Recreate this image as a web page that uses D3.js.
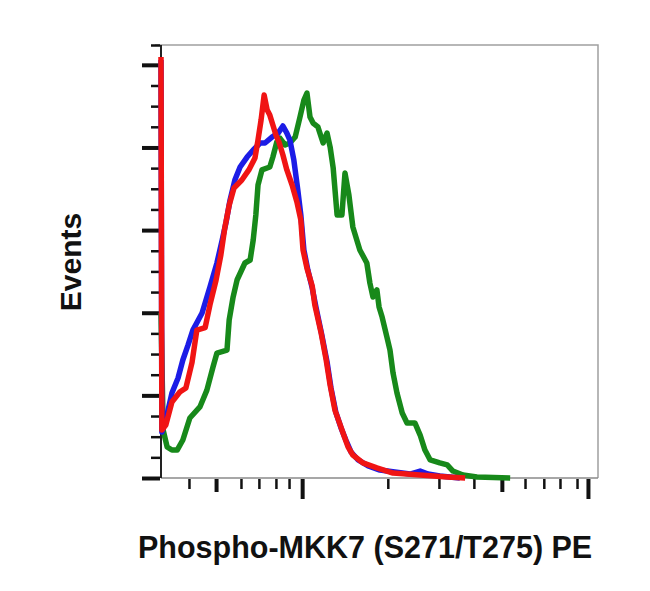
<!DOCTYPE html>
<html>
<head>
<meta charset="utf-8">
<script src="https://cdn.jsdelivr.net/npm/d3@7"></script>
<style>
  html, body { margin: 0; padding: 0; background: #fff; }
  svg { display: block; }
</style>
</head>
<body>
<div id="chart"></div>
<script>
// ---------- data (x in display channel units 0-1000, y in event counts) ----------
const xTitle = "Phospho-MKK7 (S271/T275) PE";
const yTitle = "Events";

const seriesNames = ["green", "blue", "red"];

const greenCurve = [
  [0,99.8],[5,29],[14,18.8],[25,16.9],[37,16.9],[50,23],[66,36.3],[89,43],[105,53.2],
  [119,67.2],[128,75.6],[151,77.4],[156,95.6],[165,109.5],[174,119.8],[192,130.1],
  [204,131.9],[211,144],[217,159.1],[222,177.3],[231,186.4],[249,188.2],[256,194.2],
  [265,203.3],[272,205.7],[284,201.5],[295,202.7],[307,206.3],[318,218.4],[327,228.7],
  [334,232.9],[341,218.4],[348,214.8],[359,212.4],[371,202.7],[380,208.7],[387,200.3],
  [394,187.6],[403,159.1],[414,159.1],[421,184.5],[430,171.2],[439,151.9],[455,138],
  [471,130.1],[478,118],[485,109.5],[494,113.8],[499,103.5],[506,97.4],[517,85.3],
  [524,77.4],[531,63.5],[540,51.4],[552,39.3],[563,33.3],[581,33.3],[593,26],[604,16.9],
  [616,10.9],[638,9.1],[655,7.9],[668,4.2],[691,1.8],[723,0.6],[799,0]
];

const blueCurve = [
  [0,252.9],[2,27.8],[11,35.1],[25,51.4],[39,60.5],[50,71.4],[62,80.5],[73,89.5],
  [94,99.8],[112,115.6],[128,130.1],[140,144],[149,154.9],[158,168.2],[169,180.3],
  [181,188.2],[197,194.2],[211,198.5],[227,202.7],[238,202.7],[254,206.3],[268,208.7],
  [279,213],[288,208.7],[295,204.5],[304,192.4],[313,174.3],[320,159.1],[327,138],
  [336,125.9],[346,115],[355,102.9],[368,86.5],[380,70.2],[389,54.5],[400,39.9],
  [412,30.3],[423,23],[435,15.7],[451,10.9],[474,7.3],[501,4.8],[535,3.6],[570,2.4],
  [593,4.2],[611,2.4],[638,1.2],[684,0]
];

const redCurve = [
  [0,254.7],[2,29],[11,32],[25,46],[43,52],[57,54.5],[71,70],[82,89.5],[101,91],
  [112,104.7],[126,119.8],[137,135],[146,151.3],[156,165],[167,175.5],[185,180.3],
  [201,186.4],[215,193.6],[222,204.5],[229,216.6],[236,231.7],[243,222.7],[249,219.6],
  [256,213.6],[263,207.5],[270,203.3],[279,195.4],[288,186.4],[300,177.3],[311,167],
  [320,156.1],[325,138],[334,127],[346,116.2],[352,104.7],[366,88.3],[378,71.4],
  [387,56.3],[398,41.1],[410,32.1],[419,25.4],[428,18.8],[439,13.9],[462,9.1],
  [494,6.1],[531,3],[593,1.8],[655,0.6],[696,0]
];

const xMajorTicks = [323, 977];
const xMediumTicks = [126, 780];
const xMinorTicks = [64, 183, 224, 263, 293, 519, 636, 716, 833, 876, 913, 952];

const yMajorTicks = [0, 50, 100, 150, 200, 250];
const yMinorTicks = [12.5, 25, 37.5, 62.5, 75, 87.5, 112.5, 125, 137.5, 162.5, 175, 187.5, 212.5, 225, 237.5, 262];

const xDomain = [0, 1000];
const yDomain = [0, 262];

// ---------- layout ----------
const W = 650, H = 591;
const margin = { left: 161, right: 52, top: 45, bottom: 113 };
const colors = { green: "#17891a", blue: "#1c1ce6", red: "#f01414" };
const curves = { green: greenCurve, blue: blueCurve, red: redCurve };

const svg = d3.select("#chart").append("svg").attr("width", W).attr("height", H);

const x = d3.scaleLinear().domain(xDomain).range([margin.left, W - margin.right]);
const y = d3.scaleLinear().domain(yDomain).range([H - margin.bottom, margin.top]);

// frame (top and right, light gray)
svg.append("path")
  .attr("d", `M${margin.left - 6},${y(yDomain[1])}H${x(xDomain[1])}V${y(0)}`)
  .attr("fill", "none").attr("stroke", "#a0a0a0").attr("stroke-width", 1.5);

// bottom axis line
svg.append("line")
  .attr("x1", x(xDomain[0])).attr("x2", x(xDomain[1]))
  .attr("y1", y(0)).attr("y2", y(0))
  .attr("stroke", "#8a8a8a").attr("stroke-width", 1.5);

// y axis line
svg.append("line")
  .attr("x1", x(0)).attr("x2", x(0))
  .attr("y1", y(0)).attr("y2", y(yDomain[1]))
  .attr("stroke", "#222").attr("stroke-width", 2);

function drawAxis(gen, transform, width) {
  const g = svg.append("g").attr("transform", transform).call(gen);
  g.select(".domain").remove();
  g.selectAll(".tick line").attr("stroke", "#111").attr("stroke-width", width);
  g.selectAll(".tick text").remove();
  return g;
}

// y ticks
drawAxis(d3.axisLeft(y).tickValues(yMajorTicks).tickSize(18).tickFormat(""),
  `translate(${x(0) - 1},0)`, 4);
drawAxis(d3.axisLeft(y).tickValues(yMinorTicks).tickSize(9).tickFormat(""),
  `translate(${x(0) - 1},0)`, 2.5);

// x ticks
drawAxis(d3.axisBottom(x).tickValues(xMajorTicks).tickSize(20).tickFormat(""),
  `translate(0,${y(0) + 1})`, 4);
drawAxis(d3.axisBottom(x).tickValues(xMediumTicks).tickSize(13).tickFormat(""),
  `translate(0,${y(0) + 1})`, 4);
drawAxis(d3.axisBottom(x).tickValues(xMinorTicks).tickSize(10).tickFormat(""),
  `translate(0,${y(0) + 1})`, 2.5);

// curves
const line = d3.line().x(d => x(d[0])).y(d => y(d[1]));
seriesNames.forEach(name => {
  svg.append("path")
    .datum(curves[name])
    .attr("d", line)
    .attr("fill", "none")
    .attr("stroke", colors[name])
    .attr("stroke-width", 5.5)
    .attr("stroke-linejoin", "round")
    .attr("stroke-linecap", "butt");
});

// titles
svg.append("text")
  .attr("x", 138).attr("y", 558)
  .attr("font-family", "Liberation Sans, Arial, sans-serif")
  .attr("font-weight", "bold").attr("font-size", 30.5)
  .attr("fill", "#111")
  .text(xTitle);

svg.append("text")
  .attr("transform", `translate(81,262) rotate(-90)`)
  .attr("text-anchor", "middle")
  .attr("font-family", "Liberation Sans, Arial, sans-serif")
  .attr("font-weight", "bold").attr("font-size", 30)
  .attr("fill", "#111")
  .text(yTitle);
</script>
</body>
</html>
